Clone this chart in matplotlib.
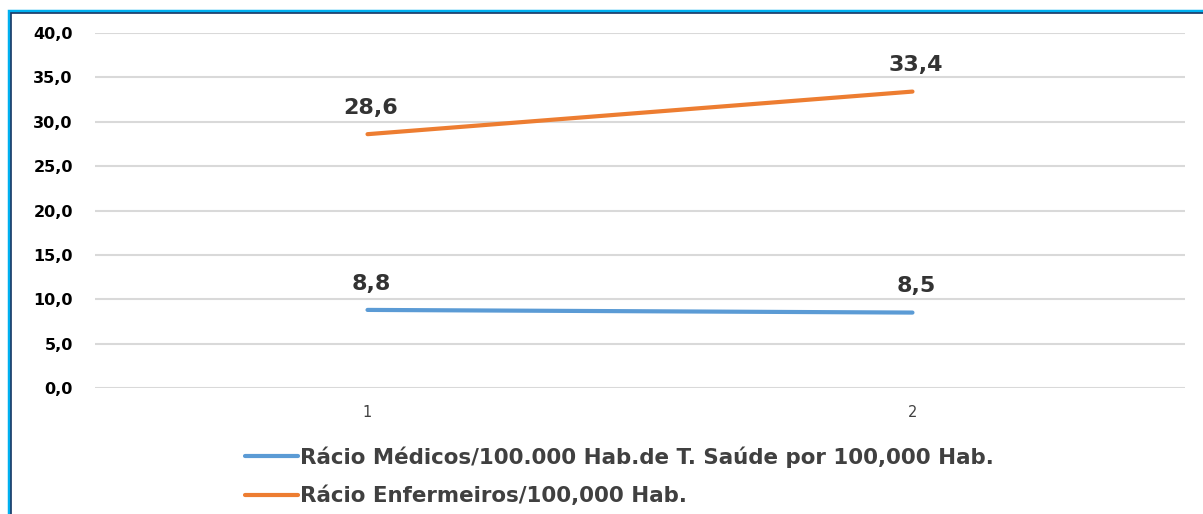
import matplotlib.pyplot as plt
from matplotlib.patches import Rectangle

# dados
categorias = [1, 2]
rotulos_x = ['1', '2']
medicos = [8.8, 8.5]
enfermeiros = [28.6, 33.4]
nome_medicos = 'Rácio Médicos/100.000 Hab.de T. Saúde por 100,000 Hab.'
nome_enfermeiros = 'Rácio Enfermeiros/100,000 Hab.'
yticks = [0, 5, 10, 15, 20, 25, 30, 35, 40]

fig = plt.figure(figsize=(12.03, 5.14), dpi=100)
ax = fig.add_axes([0.079, 0.2451, 0.906, 0.6907])

# moldura azul (cortada a direita e em baixo)
fig.patches.append(Rectangle((9 / 1203, -0.1), 1.2, 1 - 11 / 514 + 0.1, transform=fig.transFigure,
                             fill=False, edgecolor='#00b0f0', linewidth=2.5))
fig.patches.append(Rectangle((10.5 / 1203, -0.1), 1.2, 1 - 13 / 514 + 0.1, transform=fig.transFigure,
                             fill=False, edgecolor='#1f3864', linewidth=1.2))

l1, = ax.plot(categorias, medicos, color='#5b9bd5', linewidth=3, solid_capstyle='round')
l2, = ax.plot(categorias, enfermeiros, color='#ed7d31', linewidth=3, solid_capstyle='round')

for serie in (medicos, enfermeiros):
    for x, v in zip(categorias, serie):
        ax.annotate(f'{v:.1f}'.replace('.', ','), (x, v), xytext=(2.5, 14.5), textcoords='offset points',
                    ha='center', va='baseline', fontsize=16, fontweight='bold', color='#333333')

ax.set_xlim(0.5, 2.5)
ax.set_ylim(0, 40)
ax.set_yticks(yticks)
ax.set_yticklabels([f'{v:.1f}'.replace('.', ',') for v in yticks], fontsize=11.5, fontweight='bold')
ax.set_xticks(categorias)
ax.set_xticklabels(rotulos_x, fontsize=10.5, color='#404040')
ax.tick_params(axis='y', length=0, pad=16)
ax.tick_params(axis='x', length=0, pad=12)
ax.grid(axis='y', color='#d9d9d9', linewidth=1.5)
ax.set_axisbelow(True)
for s in ax.spines.values():
    s.set_visible(False)

fig.legend([l1, l2], [nome_medicos, nome_enfermeiros], loc='upper left',
           bbox_to_anchor=(226 / 1203, 1 - 427 / 514), frameon=False,
           prop={'family': 'DejaVu Sans', 'weight': 'bold', 'size': 15.4},
           handlelength=2.45, handletextpad=0.1, labelspacing=0.85, labelcolor='#404040')

fig.savefig('out.png', dpi=100)
